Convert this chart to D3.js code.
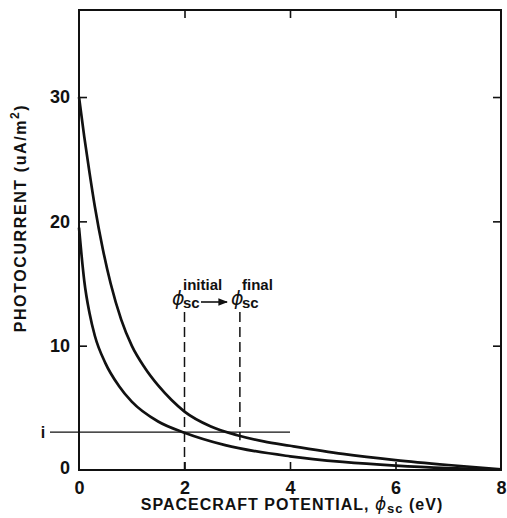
<!DOCTYPE html>
<html>
<head>
<meta charset="utf-8">
<script src="https://cdn.jsdelivr.net/npm/d3@7"></script>
<style>
  body { margin: 0; background: #fff; }
  svg text { font-family: "Liberation Sans", Arial, sans-serif; font-weight: bold; fill: #111; }
  .phi { font-family: "DejaVu Sans", sans-serif; font-style: italic; font-weight: normal; }
</style>
</head>
<body>
<div id="chart"></div>
<script>
// photocurrent curves (x: eV, y: uA/m2)
var upperX = [0, 0.1, 0.2, 0.3, 0.45, 0.6, 0.8, 1.0, 1.25, 1.5, 1.75, 2.0, 2.5, 3.0, 3.5, 4.0, 5.0, 6.0, 7.0, 8.0];
var upperY = [30, 26.8, 23.9, 21.2, 17.8, 15.0, 12.1, 10.0, 8.2, 6.8, 5.65, 4.7, 3.5, 2.8, 2.3, 1.95, 1.3, 0.8, 0.4, 0.05];
var lowerX = [0, 0.05, 0.1, 0.2, 0.3, 0.5, 0.75, 1.0, 1.5, 2.0, 2.77, 4.0, 5.0, 6.0, 7.0, 8.0];
var lowerY = [19.5, 17.2, 15.2, 12.6, 10.8, 8.6, 6.8, 5.5, 3.9, 3.0, 2.0, 1.1, 0.65, 0.35, 0.15, 0.03];

var xTicks = [0, 2, 4, 6, 8];
var yTicks = [0, 10, 20, 30];
var iLevel = 3.05;       // horizontal current level "i"
var iLineEnd = 4;
var phiInitial = 2;
var phiFinal = 3.05;
var dashTop = 12.7;
var finalDashBottom = 2.4;

var width = 507, height = 518;
var svg = d3.select('#chart').append('svg').attr('width', width).attr('height', height);

var x = d3.scaleLinear().domain([0, 8]).range([79, 501]);
var y = d3.scaleLinear().domain([0, 37]).range([470, 10]);

function styleAxis(g) {
    g.select('.domain').remove();
    g.selectAll('.tick line').attr('stroke', '#111').attr('stroke-width', 1.6);
    g.selectAll('.tick text').attr('font-size', 18).attr('fill', '#111');
}

// frame
svg.append('rect')
    .attr('x', x(0)).attr('y', y(37))
    .attr('width', x(8) - x(0)).attr('height', y(0) - y(37))
    .attr('fill', 'none').attr('stroke', '#111').attr('stroke-width', 2);

svg.append('g').attr('transform', 'translate(0,' + y(0) + ')')
    .call(d3.axisBottom(x).tickValues(xTicks).tickSize(-8).tickPadding(11).tickFormat(d3.format('d')))
    .call(styleAxis)
    .call(function(g) { g.selectAll('.tick line').filter(function(d) { return d === 0 || d === 8; }).remove(); });

svg.append('g').attr('transform', 'translate(0,' + y(37) + ')')
    .call(d3.axisTop(x).tickValues([2, 4, 6]).tickSize(-8).tickFormat(''))
    .call(styleAxis);

svg.append('g').attr('transform', 'translate(' + x(0) + ',0)')
    .call(d3.axisLeft(y).tickValues(yTicks).tickSize(-8).tickPadding(9).tickFormat(d3.format('d')))
    .call(styleAxis)
    .call(function(g) {
        g.selectAll('.tick line').filter(function(d) { return d === 0; }).remove();
        g.selectAll('.tick text').filter(function(d) { return d === 0; }).attr('dy', '0.2em');
    });

svg.append('g').attr('transform', 'translate(' + x(8) + ',0)')
    .call(d3.axisRight(y).tickValues([10, 20, 30]).tickSize(-8).tickFormat(''))
    .call(styleAxis);

// curves
var line = d3.line()
    .x(function(d) { return x(d[0]); })
    .y(function(d) { return y(d[1]); })
    .curve(d3.curveMonotoneX);

[[upperX, upperY], [lowerX, lowerY]].forEach(function(s) {
    svg.append('path')
        .datum(d3.zip(s[0], s[1]))
        .attr('d', line)
        .attr('fill', 'none').attr('stroke', '#111').attr('stroke-width', 2.7);
});

// level i
svg.append('line')
    .attr('x1', 50).attr('x2', x(iLineEnd))
    .attr('y1', y(iLevel)).attr('y2', y(iLevel))
    .attr('stroke', '#111').attr('stroke-width', 1.3);
svg.append('text').attr('x', 43).attr('y', y(iLevel)).attr('dy', '0.35em')
    .attr('text-anchor', 'middle').attr('font-size', 16).text('i');

// dashed markers
svg.append('line')
    .attr('x1', x(phiInitial)).attr('x2', x(phiInitial))
    .attr('y1', y(dashTop)).attr('y2', y(0))
    .attr('stroke', '#111').attr('stroke-width', 1.5).attr('stroke-dasharray', '10,5');
svg.append('line')
    .attr('x1', x(phiFinal)).attr('x2', x(phiFinal))
    .attr('y1', y(dashTop)).attr('y2', y(finalDashBottom))
    .attr('stroke', '#111').attr('stroke-width', 1.5).attr('stroke-dasharray', '10,5');

// phi labels
function phiLabel(px, sup) {
    var g = svg.append('g');
    g.append('text').attr('class', 'phi').attr('x', px).attr('y', 305)
        .attr('font-size', 19).text('\u03D5');
    g.append('text').attr('x', px + 11).attr('y', 308).attr('font-size', 15).text('sc');
    g.append('text').attr('x', px + 11).attr('y', 290).attr('font-size', 15).text(sup);
}
phiLabel(172, 'initial');
phiLabel(231, 'final');

svg.append('defs').append('marker')
    .attr('id', 'arrow').attr('viewBox', '0 0 10 10')
    .attr('refX', 9).attr('refY', 5)
    .attr('markerWidth', 8).attr('markerHeight', 6)
    .attr('orient', 'auto')
    .append('path').attr('d', 'M0,1 L10,5 L0,9 Z').attr('fill', '#111');
svg.append('line')
    .attr('x1', 201).attr('x2', 227).attr('y1', 302).attr('y2', 302)
    .attr('stroke', '#111').attr('stroke-width', 1.6)
    .attr('marker-end', 'url(#arrow)');

// axis titles
var xt = svg.append('text').attr('x', 292).attr('y', 510).attr('text-anchor', 'middle')
    .attr('font-size', 16).attr('letter-spacing', 1);
xt.append('tspan').text('SPACECRAFT POTENTIAL, ');
xt.append('tspan').attr('class', 'phi').attr('font-size', 17).text('\u03D5');
xt.append('tspan').attr('font-size', 13).attr('dy', 3).text('sc');
xt.append('tspan').attr('dy', -3).text(' (eV)');

var yt = svg.append('text').attr('transform', 'translate(26,218) rotate(-90)')
    .attr('text-anchor', 'middle').attr('font-size', 16).attr('letter-spacing', 1.6);
yt.append('tspan').text('PHOTOCURRENT (uA/m');
yt.append('tspan').attr('font-size', 12).attr('dy', -7).text('2');
yt.append('tspan').attr('dy', 7).text(')');
</script>
</body>
</html>
